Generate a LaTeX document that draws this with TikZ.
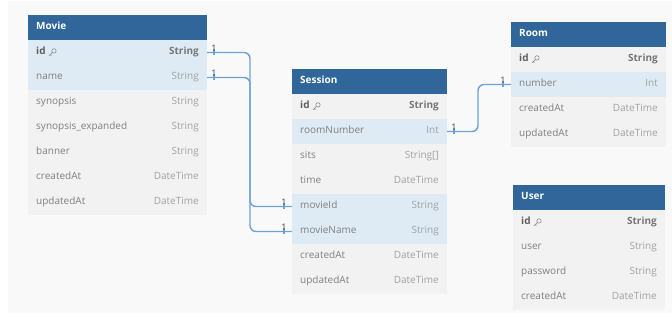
\documentclass[tikz,border=0pt]{standalone}
\usepackage{fontspec}
\setmainfont{Open Sans}
\usetikzlibrary{calc}

\definecolor{hdrblue}{HTML}{30669A}
\definecolor{rowblue}{HTML}{DEEBF4}
\definecolor{rowgray}{HTML}{F2F2F2}
\definecolor{panel}{HTML}{F9F9F9}
\definecolor{fieldgray}{HTML}{808080}
\definecolor{typegray}{HTML}{A2A2A2}
\definecolor{idgray}{HTML}{5E5E5E}
\definecolor{linkblue}{HTML}{6CA2D6}
\definecolor{labelgray}{HTML}{444444}

\tikzset{
  tblhead/.style={rectangle, fill=hdrblue, anchor=north west, minimum height=25pt, inner sep=0pt, outer sep=0pt},
  tblrow/.style={rectangle, fill=rowgray, anchor=north west, minimum height=25pt, inner sep=0pt, outer sep=0pt},
  keyrow/.style={tblrow, fill=rowblue},
  txtbase/.style={inner sep=0pt, text height=7.5pt, text depth=2.5pt, font=\fontsize{10}{12}\selectfont},
  titletxt/.style={txtbase, anchor=west, text=white, font=\fontsize{10}{12}\selectfont\bfseries},
  fieldtxt/.style={txtbase, anchor=west, text=fieldgray},
  typetxt/.style={txtbase, anchor=east, text=typegray},
  idfield/.style={fieldtxt, text=idgray, font=\fontsize{10}{12}\selectfont\bfseries},
  idtype/.style={typetxt, text=idgray!85, font=\fontsize{10}{12}\selectfont\bfseries},
  link/.style={draw=linkblue, line width=1.4pt, rounded corners=6pt},
  onetick/.style={draw=linkblue, line width=1.2pt},
  onelbl/.style={inner sep=0pt, anchor=south, text=labelgray, font=\fontsize{9}{10}\selectfont}
}

% table header: name, x, y top, width, title
\newcommand\dbhead[5]{%
  \node[tblhead, minimum width=#4pt] (#1) at (#2,#3) {};
  \node[titletxt] (#1-title) at ($(#1.west)+(8,0)$) {#5};
}
% table row: name, x, y top, width, style, field, type
\newcommand\dbrow[7]{%
  \node[#5, minimum width=#4pt] (#1) at (#2,#3) {};
  \node[fieldtxt] (#1-f) at ($(#1.west)+(8,0)$) {#6};
  \node[typetxt] (#1-t) at ($(#1.east)+(-8,0)$) {#7};
}
% primary key row: name, x, y top, width
\newcommand\dbid[4]{%
  \node[tblrow, minimum width=#4pt] (#1) at (#2,#3) {};
  \node[idfield] (#1-f) at ($(#1.west)+(8,0)$) {id};
  \node[idtype] (#1-t) at ($(#1.east)+(-8,0)$) {String};
  \draw[idgray!70, line width=0.6pt] ($(#1-f.east)+(8.2,-1.6)$) circle (2.2);
  \draw[idgray!70, line width=0.6pt, line cap=round]
    ($(#1-f.east)+(6.6,0)$) -- ($(#1-f.east)+(3.4,3.2)$)
    ($(#1-f.east)+(4.6,2)$) -- ($(#1-f.east)+(5.6,3)$);
}
% "one" end marker: name, row anchor, horizontal offset
\newcommand\onemark[3]{%
  \draw[onetick] ($(#2)+(#3,-3)$) -- ($(#2)+(#3,3)$);
  \node[onelbl] (#1) at ($(#2)+(#3,-1)$) {1};
}

\begin{document}
\begin{tikzpicture}[x=1pt, y=-1pt]
  \useasboundingbox (0,0) rectangle (672,320);
  \fill[white] (0,0) rectangle (672,320);
  \fill[panel] (8,1) rectangle (672,313);

  % Movie
  \dbhead{movie}{28}{15}{179}{Movie}
  \node[keyrow, minimum width=179pt] (m-id) at (28,40) {};
  \node[idfield] (m-id-f) at ($(m-id.west)+(8,0)$) {id};
  \node[idtype] (m-id-t) at ($(m-id.east)+(-8,0)$) {String};
  \draw[idgray!70, line width=0.6pt] ($(m-id-f.east)+(8.2,-1.6)$) circle (2.2);
  \draw[idgray!70, line width=0.6pt, line cap=round]
    ($(m-id-f.east)+(6.6,0)$) -- ($(m-id-f.east)+(3.4,3.2)$)
    ($(m-id-f.east)+(4.6,2)$) -- ($(m-id-f.east)+(5.6,3)$);
  \dbrow{m-name}{28}{65}{179}{keyrow}{name}{String}
  \dbrow{m-syn}{28}{90}{179}{tblrow}{synopsis}{String}
  \dbrow{m-synx}{28}{115}{179}{tblrow}{synopsis\_expanded}{String}
  \dbrow{m-banner}{28}{140}{179}{tblrow}{banner}{String}
  \dbrow{m-created}{28}{165}{179}{tblrow}{createdAt}{DateTime}
  \dbrow{m-updated}{28}{190}{179}{tblrow}{updatedAt}{DateTime}

  % Session
  \dbhead{session}{292}{69}{155}{Session}
  \dbid{s-id}{292}{94}{155}
  \dbrow{s-room}{292}{119}{155}{keyrow}{roomNumber}{Int}
  \dbrow{s-sits}{292}{144}{155}{tblrow}{sits}{String[]}
  \dbrow{s-time}{292}{169}{155}{tblrow}{time}{DateTime}
  \dbrow{s-movieid}{292}{194}{155}{keyrow}{movieId}{String}
  \dbrow{s-moviename}{292}{219}{155}{keyrow}{movieName}{String}
  \dbrow{s-created}{292}{244}{155}{tblrow}{createdAt}{DateTime}
  \dbrow{s-updated}{292}{269}{155}{tblrow}{updatedAt}{DateTime}

  % Room
  \dbhead{room}{511}{22}{155}{Room}
  \dbid{r-id}{511}{47}{155}
  \dbrow{r-number}{511}{72}{155}{keyrow}{number}{Int}
  \dbrow{r-created}{511}{97}{155}{tblrow}{createdAt}{DateTime}
  \dbrow{r-updated}{511}{122}{155}{tblrow}{updatedAt}{DateTime}

  % User
  \dbhead{user}{513}{185}{152}{User}
  \dbid{u-id}{513}{210}{152}
  \dbrow{u-user}{513}{235}{152}{tblrow}{user}{String}
  \dbrow{u-pass}{513}{260}{152}{tblrow}{password}{String}
  \dbrow{u-created}{513}{285}{152}{tblrow}{createdAt}{DateTime}

  % relations
  \coordinate (mbus) at (250,0);
  \coordinate (rbus) at (478,0);
  \draw[link] (m-id.east) -| (mbus |- s-movieid.west) -- (s-movieid.west);
  \draw[link] (m-name.east) -| (mbus |- s-moviename.west) -- (s-moviename.west);
  \draw[link] (s-room.east) -| (rbus |- r-number.west) -- (r-number.west);

  \onemark{l-mid}{m-id.east}{7}
  \onemark{l-mname}{m-name.east}{7}
  \onemark{l-smid}{s-movieid.west}{-8}
  \onemark{l-smname}{s-moviename.west}{-8}
  \onemark{l-sroom}{s-room.east}{7}
  \onemark{l-rnum}{r-number.west}{-8}
\end{tikzpicture}
\end{document}
